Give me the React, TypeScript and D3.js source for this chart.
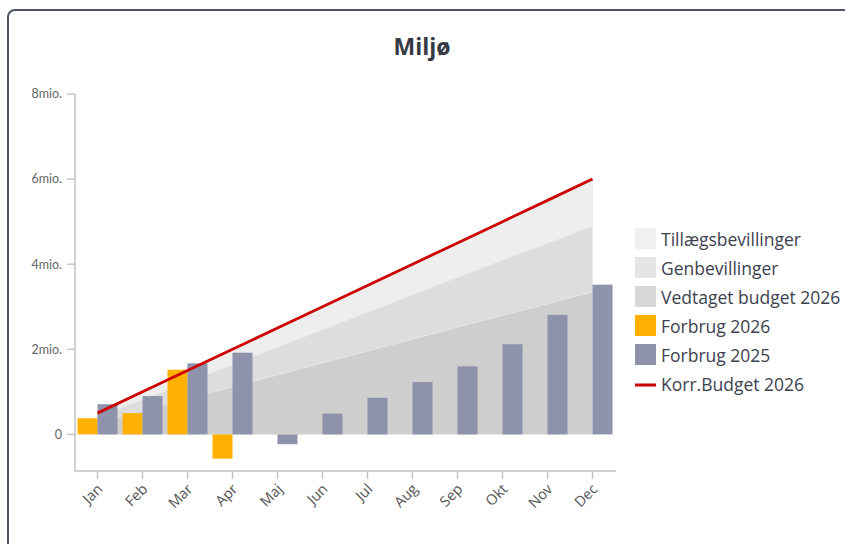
import React from "react";
import * as d3 from "d3";

const months = ["Jan", "Feb", "Mar", "Apr", "Maj", "Jun", "Jul", "Aug", "Sep", "Okt", "Nov", "Dec"];
const forbrug2026: (number | null)[] = [0.38, 0.5, 1.52, -0.57, null, null, null, null, null, null, null, null];
const forbrug2025 = [0.71, 0.9, 1.67, 1.92, -0.23, 0.49, 0.86, 1.23, 1.6, 2.12, 2.81, 3.52];
const vedtaget = [0.28, 0.56, 0.84, 1.12, 1.4, 1.68, 1.96, 2.24, 2.52, 2.8, 3.07, 3.35];
const genbevillinger = [0.13, 0.26, 0.39, 0.52, 0.65, 0.78, 0.91, 1.04, 1.17, 1.3, 1.42, 1.55];
const tillaeg = [0.09, 0.18, 0.27, 0.36, 0.45, 0.54, 0.63, 0.72, 0.81, 0.9, 1.01, 1.1];
const korrBudget = [0.5, 1.0, 1.5, 2.0, 2.5, 3.0, 3.5, 4.0, 4.5, 5.0, 5.5, 6.0];
const yTicks = [0, 2, 4, 6, 8];
const yTickLabels = ["0", "2mio.", "4mio.", "6mio.", "8mio."];

const legendItems = [
  { label: "Tillægsbevillinger", color: "#f0f0f0", type: "rect" },
  { label: "Genbevillinger", color: "#e5e5e5", type: "rect" },
  { label: "Vedtaget budget 2026", color: "#d7d7d7", type: "rect" },
  { label: "Forbrug 2026", color: "#ffb000", type: "rect" },
  { label: "Forbrug 2025", color: "#8e93ab", type: "rect" },
  { label: "Korr.Budget 2026", color: "#cc0000", type: "line" },
];

export default function App() {
  const W = 845, H = 544;
  const x = d3.scaleBand<string>().domain(months).range([75, 615]).padding(0);
  const bw = x.bandwidth();
  const inner = d3.scaleBand<string>().domain(["2026", "2025"]).range([2.5, bw - 2.5]);
  const y = d3.scaleLinear().domain([-0.86, 8]).range([471, 94]);
  const cx = (i: number) => (x(months[i]) as number) + bw / 2;

  const rows = months.map((m, i) => ({ m, i, vedtaget: vedtaget[i], gen: genbevillinger[i], till: tillaeg[i] }));
  const stack = d3.stack<any>().keys(["vedtaget", "gen", "till"]);
  const series = stack(rows);
  const areaColors = ["#cecece", "#dddddd", "#eeeeee"];
  const area = d3
    .area<any>()
    .x((d) => cx(d.data.i))
    .y0((d) => y(d[0]))
    .y1((d) => y(d[1]));
  const line = d3
    .line<number>()
    .x((_, i) => cx(i))
    .y((d) => y(d));

  const font = "'Open Sans', 'Noto Sans', sans-serif";
  const tickFont = "Lato, 'Noto Sans', sans-serif";

  return (
    <svg width={W} height={H} style={{ position: "absolute", left: 0, top: 0, background: "#fff" }}>
      <rect x={8} y={10} width={860} height={560} rx={7} fill="#fff" stroke="#4b5563" strokeWidth={2} />
      <text x={422} y={55} textAnchor="middle" fontFamily={font} fontWeight={700} fontSize={23} fill="#353a45">
        Miljø
      </text>

      {series.map((s, k) => (
        <path key={k} d={area(s) || ""} fill={areaColors[k]} stroke="#e6e6e6" strokeWidth={0.6} />
      ))}

      {forbrug2026.map((v, i) =>
        v == null ? null : (
          <rect
            key={"a" + i}
            x={(x(months[i]) as number) + (inner("2026") as number)}
            width={inner.bandwidth()}
            y={y(Math.max(0, v))}
            height={Math.abs(y(v) - y(0))}
            fill="#ffb000"
          />
        )
      )}
      {forbrug2025.map((v, i) => (
        <rect
          key={"b" + i}
          x={(x(months[i]) as number) + (inner("2025") as number)}
          width={inner.bandwidth()}
          y={y(Math.max(0, v))}
          height={Math.abs(y(v) - y(0))}
          fill="#8e93ab"
        />
      ))}

      <path d={line(korrBudget) || ""} fill="none" stroke="#cc0000" strokeWidth={2.8} />

      {/* axes */}
      <path d={`M75,${y(8)} V471 H616`} fill="none" stroke="#c4c4c4" strokeWidth={1.5} />
      {yTicks.map((t, i) => (
        <g key={t}>
          <line x1={67} x2={75} y1={y(t)} y2={y(t)} stroke="#c4c4c4" strokeWidth={1.5} />
          <text x={62} y={y(t)} dy="0.35em" textAnchor="end" fontFamily={tickFont} fontSize={12.5} fill="#666">
            {yTickLabels[i]}
          </text>
        </g>
      ))}
      {months.map((m, i) => (
        <g key={m}>
          <line x1={cx(i)} x2={cx(i)} y1={471} y2={479} stroke="#c4c4c4" strokeWidth={1.5} />
          <text
            transform={`translate(${cx(i) + 6},${490}) rotate(-45)`}
            textAnchor="end"
            fontFamily={font}
            fontSize={14.5}
            fill="#555"
          >
            {m}
          </text>
        </g>
      ))}

      {/* legend */}
      {legendItems.map((it, i) => {
        const top = 228 + i * 29;
        return (
          <g key={it.label}>
            {it.type === "rect" ? (
              <rect x={635} y={top} width={21} height={21} fill={it.color} />
            ) : (
              <line x1={635} x2={656} y1={top + 12} y2={top + 12} stroke={it.color} strokeWidth={3} />
            )}
            <text x={661} y={top + 18} fontFamily={font} fontSize={17.5} fill="#3d4250">
              {it.label}
            </text>
          </g>
        );
      })}
    </svg>
  );
}
